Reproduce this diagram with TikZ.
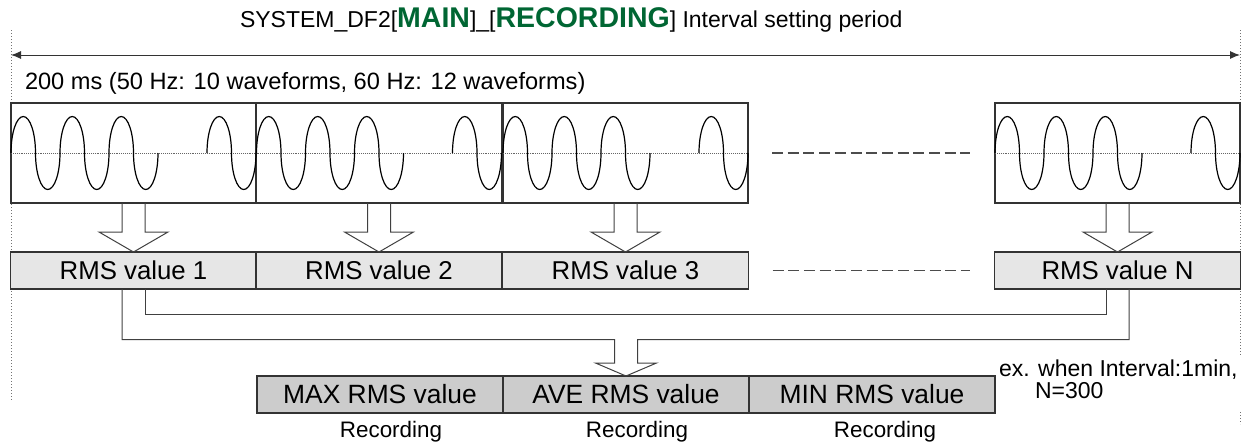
\documentclass[tikz,border=0pt]{standalone}
\usepackage{fontspec}
\setmainfont{Liberation Sans}
\usetikzlibrary{arrows.meta,calc}
\definecolor{dgreen}{RGB}{0,102,51}
\definecolor{rmsfill}{RGB}{230,230,230}
\definecolor{outfill}{RGB}{204,204,204}
\begin{document}
\begin{tikzpicture}[x=1pt,y=-1pt,
  wavebox/.style={draw=black!80, line width=1.2pt, minimum width=245pt, minimum height=100pt, inner sep=0pt, outer sep=0pt},
  rmsbox/.style={draw=black!80, line width=1.1pt, fill=rmsfill, minimum width=246pt, minimum height=37pt, inner sep=0pt, outer sep=0pt, font=\fontsize{25.8}{30}\selectfont},
  outbox/.style={rmsbox, fill=outfill, font=\fontsize{26.4}{30}\selectfont},
  wave/.style={line width=1.2pt, black},
  midline/.style={densely dotted, line width=0.9pt, black!60},
  blockarrow/.style={draw=black!75, line width=1pt, line join=miter},
  guide/.style={dotted, line width=1pt, black!55},
  gapline/.style={dash pattern=on 11pt off 4.7pt, line width=1.2pt, black!70},
  txt/.style={inner sep=0pt, outer sep=0pt},
  up/.style={start angle=180, end angle=360, x radius=12.25, y radius=36.5},
  dn/.style={start angle=180, end angle=0, x radius=12.25, y radius=36.5},
]
\useasboundingbox (0,0) rectangle (1248,445);

% guides and top arrow
\coordinate (gl1) at (11,30);
\coordinate (gl2) at (11,400);
\coordinate (gr1) at (1240,30);
\coordinate (gr2) at (1240,355);
\coordinate (gr3) at (1240,412);
\coordinate (gr4) at (1240,424);
\coordinate (aL) at (11,55);
\coordinate (aR) at (1240,55);
\draw[guide] (gl1) -- (gl2);
\draw[guide] (gr1) -- (gr2);
\draw[guide] (gr3) -- (gr4);
\draw[{Latex[length=10pt,width=8pt]}-{Latex[length=10pt,width=8pt]}, line width=1pt, black!80] (aL) -- (aR);

% texts
\node[txt, anchor=base west, font=\fontsize{23}{27}\selectfont] (title) at (240,27)
  {SYSTEM\_DF2[{\fontsize{28.5}{30}\selectfont\bfseries\color{dgreen}MAIN}]\_[{\fontsize{28.5}{30}\selectfont\bfseries\color{dgreen}RECORDING}] Interval setting period};
\node[txt, anchor=base west, font=\fontsize{23.6}{27}\selectfont] (period) at (25,89.5)
  {200 ms (50 Hz: 10 waveforms, 60 Hz: 12 waveforms)};

% waveform boxes
\node[wavebox] (w1) at (133.5,153) {};
\node[wavebox] (w2) at (379,153) {};
\node[wavebox] (w3) at (625.5,153) {};
\node[wavebox] (wN) at (1117.5,153) {};

\foreach \w in {w1,w2,w3,wN}{
  \draw[midline] (\w.west) -- (\w.east);
  \draw[wave] (\w.west)
    arc[up] arc[dn] arc[up] arc[dn] arc[up] arc[dn];
  \draw[wave] ($(\w.west)+(196,0)$) arc[up] arc[dn];
}

% RMS boxes
\node[rmsbox] (r1) at (133.5,270.5) {RMS value 1};
\node[rmsbox] (r2) at (379,270.5) {RMS value 2};
\node[rmsbox] (r3) at (625.5,270.5) {RMS value 3};
\node[rmsbox] (rN) at (1117.5,270.5) {RMS value N};

% output boxes
\node[outbox] (mx) at (380,394.5) {MAX RMS value};
\node[outbox] (av) at (626,394.5) {AVE RMS value};
\node[outbox] (mn) at (872,394.5) {MIN RMS value};

% block arrows wave -> RMS
\foreach \a/\b in {w1/r1,w2/r2,w3/r3,wN/rN}{
  \draw[blockarrow] ($(\a.south)+(-11.5,0)$) -- ($(\b.north)+(-11.5,-20)$) -- ($(\b.north)+(-34.5,-20)$)
    -- (\b.north) -- ($(\b.north)+(34.5,-20)$) -- ($(\b.north)+(11.5,-20)$) -- ($(\a.south)+(11.5,0)$);
}

% merging arrow RMS -> AVE
\draw[blockarrow] ($(r1.south)+(11.5,0)$) |- ($(rN.south)+(-11.5,25)$) -- ($(rN.south)+(-11.5,0)$);
\draw[blockarrow] ($(r1.south)+(-11.5,0)$) |- ($(av.north)+(-11.5,-36.5)$) -- ($(av.north)+(-11.5,-13)$)
  -- ($(av.north)+(-30.5,-13)$) -- (av.north) -- ($(av.north)+(30.5,-13)$) -- ($(av.north)+(11.5,-13)$)
  -- ($(av.north)+(11.5,-36.5)$) -| ($(rN.south)+(11.5,0)$);

% gap dashes
\draw[gapline] ($(w3.east)+(24,0)$) -- ($(wN.west)+(-25,0)$);
\draw[gapline] ($(r3.east)+(24,0)$) -- ($(rN.west)+(-25,0)$);

% labels
\node[txt, anchor=base, font=\fontsize{22.4}{26}\selectfont] (rec1) at ($(mx.south)+(11,24.7)$) {Recording};
\node[txt, anchor=base, font=\fontsize{22.4}{26}\selectfont] (rec2) at ($(av.south)+(11,24.7)$) {Recording};
\node[txt, anchor=base, font=\fontsize{22.4}{26}\selectfont] (rec3) at ($(mn.south)+(13,24.7)$) {Recording};
\node[txt, anchor=base west, font=\fontsize{23}{27}\selectfont] (ex1) at (999,376.7) {ex. when Interval:1min,};
\node[txt, anchor=base west, font=\fontsize{23}{27}\selectfont] (ex2) at (1035,398) {N=300};
\end{tikzpicture}
\end{document}
